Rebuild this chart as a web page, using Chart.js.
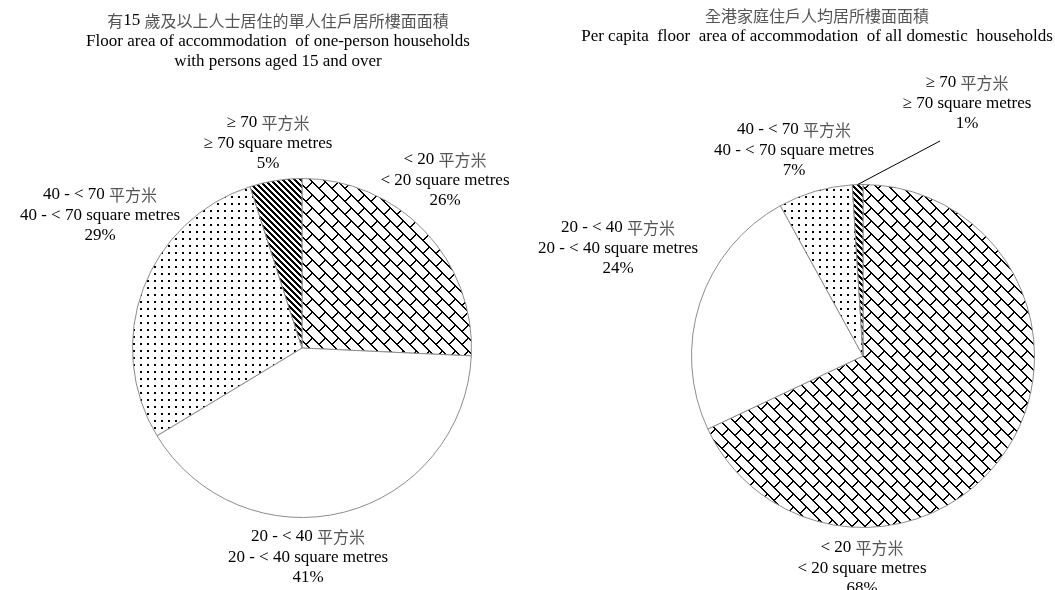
<!DOCTYPE html>
<html>
<head>
<meta charset="utf-8">
<script src="https://cdn.jsdelivr.net/npm/chart.js@4.4.1/dist/chart.umd.min.js"></script>
<style>
  html, body { margin: 0; padding: 0; background: #fff; }
  #wrap { position: relative; width: 1055px; height: 590px; overflow: hidden; }
  #wrap canvas { position: absolute; left: 0; top: 0; }
</style>
</head>
<body>
<div id="wrap">
  <canvas id="pie-one-person" width="1055" height="590"></canvas>
  <canvas id="pie-all-households" width="1055" height="590"></canvas>
</div>
<script>
// size bands (same order in both pies)
let bandsZh = ['< 20 平方米', '20 - < 40 平方米', '40 - < 70 平方米', '≥ 70 平方米'];
let bandsEn = ['< 20 square metres', '20 - < 40 square metres', '40 - < 70 square metres', '≥ 70 square metres'];

// percentages
let onePersonShares = [26, 41, 29, 5];
let allHouseholdShares = [68, 24, 7, 1];

let onePersonTitle = ['有15 歲及以上人士居住的單人住戶居所樓面面積', 'Floor area of accommodation  of one-person households', 'with persons aged 15 and over'];
let allHouseholdTitle = ['全港家庭住戶人均居所樓面面積', 'Per capita  floor  area of accommodation  of all domestic  households'];

let FONT = "17px 'Liberation Serif', serif";
let CJK_FONT = "16px 'Noto Sans CJK TC', sans-serif";
let LINE_H = 20.5;

function makePattern(size, draw) {
    let c = document.createElement('canvas');
    c.width = size;
    c.height = size;
    let g = c.getContext('2d');
    g.fillStyle = '#fff';
    g.fillRect(0, 0, size, size);
    g.fillStyle = '#000';
    let px = function (x, y) {
        g.fillRect(((x % size) + size) % size, ((y % size) + size) % size, 1, 1);
    };
    draw(px, size);
    return g.createPattern(c, 'repeat');
}

// diagonal brick: long strokes down-right, short joints up-right
let brick = makePattern(13, function (px, T) {
    for (let i = 0; i < T; i++) { px(i, i); px(i + 1, i); }
    for (let j = 1; j <= 6; j++) { px(6 + j, 6 - j); px(7 + j, 6 - j); }
});

// small dots
let dots = makePattern(7, function (px) {
    px(0, 0); px(1, 0); px(0, 1); px(1, 1);
});

// dark downward diagonal
let stripes = makePattern(6, function (px, T) {
    for (let y = 0; y < T; y++)
        for (let x = 0; x < T; x++)
            if ((x - y + 12) % 6 < 3) px(x, y);
});

let sliceFills = [brick, '#ffffff', dots, stripes];

// split a line into latin / CJK runs so the Chinese can be set in its own font
function runsOf(text) {
    let parts = text.match(/[\u3000-\u9fff\uf900-\ufaff]+|[^\u3000-\u9fff\uf900-\ufaff]+/g) || [];
    return parts.map(function (p) {
        let cjk = /[\u3000-\u9fff\uf900-\ufaff]/.test(p);
        return { text: p, font: cjk ? CJK_FONT : FONT, color: cjk ? '#555' : '#000' };
    });
}

function drawLines(ctx, lines, x, y) {
    ctx.save();
    ctx.textAlign = 'left';
    ctx.textBaseline = 'middle';
    lines.forEach(function (t, i) {
        let runs = runsOf(t);
        let total = 0;
        runs.forEach(function (r) {
            ctx.font = r.font;
            r.w = ctx.measureText(r.text).width;
            total += r.w;
        });
        let cx = x - total / 2;
        runs.forEach(function (r) {
            ctx.font = r.font;
            ctx.fillStyle = r.color;
            ctx.fillText(r.text, cx, y + i * LINE_H);
            cx += r.w;
        });
    });
    ctx.restore();
}

// labels are placed by offset from the pie centre; leader is drawn from the slice edge
let pieLabels = {
    id: 'pieLabels',
    afterDraw: function (chart, args, opts) {
        let ctx = chart.ctx;
        let meta = chart.getDatasetMeta(0);
        let arc0 = meta.data[0];
        let cx = arc0.x, cy = arc0.y;
        let values = chart.data.datasets[0].data;

        drawLines(ctx, opts.title, opts.titlePos[0], opts.titlePos[1]);

        meta.data.forEach(function (arc, i) {
            let off = opts.offsets[i];
            let lx = cx + off[0], ly = cy + off[1];
            drawLines(ctx, [bandsZh[i], bandsEn[i], values[i] + '%'], lx, ly);
            if (opts.leader && opts.leader[i]) {
                let mid = (arc.startAngle + arc.endAngle) / 2;
                let r = arc.outerRadius;
                ctx.save();
                ctx.strokeStyle = '#000';
                ctx.lineWidth = 1;
                ctx.beginPath();
                ctx.moveTo(cx + r * Math.cos(mid), cy + r * Math.sin(mid));
                ctx.lineTo(lx + opts.leader[i][0], ly + opts.leader[i][1]);
                ctx.stroke();
                ctx.restore();
            }
        });
    }
};

function pieConfig(shares, padding, labelOpts) {
    return {
        type: 'pie',
        data: {
            labels: bandsEn,
            datasets: [{
                data: shares,
                backgroundColor: sliceFills,
                borderColor: '#8c8c8c',
                borderWidth: 1
            }]
        },
        options: {
            responsive: false,
            animation: false,
            devicePixelRatio: 1,
            layout: { padding: padding },
            plugins: {
                legend: { display: false },
                tooltip: { enabled: false },
                pieLabels: labelOpts
            }
        },
        plugins: [pieLabels]
    };
}

window.onload = function () {
    let ctxA = document.getElementById('pie-one-person').getContext('2d');
    new Chart(ctxA, pieConfig(onePersonShares,
        { left: 132, right: 583, top: 178, bottom: 72 },
        {
            title: onePersonTitle,
            titlePos: [278, 21],
            offsets: [[143, -188], [6, 189], [-202, -153], [-34, -225]]
        }));

    let ctxB = document.getElementById('pie-all-households').getContext('2d');
    new Chart(ctxB, pieConfig(allHouseholdShares,
        { left: 691, right: 20, top: 184, bottom: 62 },
        {
            title: allHouseholdTitle,
            titlePos: [817, 16],
            offsets: [[-1, 192], [-245, -128], [-69, -226], [104, -273]],
            leader: [null, null, null, [-27, 58]]
        }));
};
</script>
</body>
</html>
